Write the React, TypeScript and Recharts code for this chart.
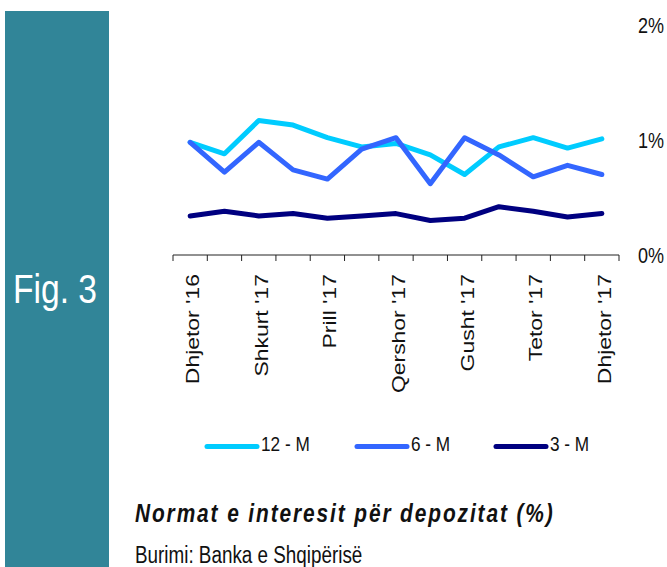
import { LineChart, Line, XAxis, YAxis } from 'recharts';

// Months on the category axis (Dec '16 .. Dec '17)
const MONTHS = [
    "Dhjetor '16", "Janar '17", "Shkurt '17", "Mars '17", "Prill '17", "Maj '17",
    "Qershor '17", "Korrik '17", "Gusht '17", "Shtator '17", "Tetor '17", "Nëntor '17", "Dhjetor '17",
];

// Deposit rates, in percent
const RATE_12M = [0.98, 0.88, 1.17, 1.13, 1.02, 0.94, 0.97, 0.87, 0.70, 0.94, 1.02, 0.93, 1.01];
const RATE_6M = [0.98, 0.72, 0.98, 0.74, 0.66, 0.92, 1.02, 0.62, 1.02, 0.87, 0.68, 0.78, 0.70];
const RATE_3M = [0.34, 0.38, 0.34, 0.36, 0.32, 0.34, 0.36, 0.30, 0.32, 0.42, 0.38, 0.33, 0.36];

const Y_TICKS = [0, 1, 2];

const SERIES = [
    { key: 'm12', name: '12 - M', color: '#00ccff' },
    { key: 'm6', name: '6 - M', color: '#3366ff' },
    { key: 'm3', name: '3 - M', color: '#000080' },
];

const data = MONTHS.map((month, i) => ({
    month,
    m12: RATE_12M[i],
    m6: RATE_6M[i],
    m3: RATE_3M[i],
}));

const W = 667;
const H = 567;
const PLOT_LEFT = 173;
const PLOT_RIGHT = 619;
const STEP = (PLOT_RIGHT - PLOT_LEFT) / MONTHS.length;

const REGULAR = "'Liberation Sans', Arial, sans-serif";

// no narrow font installed, so squeeze the regular one
const NarrowText = ({ x, y, size, children, ...rest }: any) => (
    <text
        transform={`translate(${x},${y}) scale(0.82,1)`}
        fontFamily={REGULAR}
        fontSize={size}
        fill="#111"
        {...rest}
    >
        {children}
    </text>
);

// ticks sit between categories, labels on every other month
const XTick = (props: any) => {
    const { x, y, index, payload } = props;
    const half = STEP / 2;
    return (
        <g>
            <line x1={x - half} x2={x - half} y1={y} y2={y + 6} stroke="#222" />
            {index === MONTHS.length - 1 && (
                <line x1={x + half} x2={x + half} y1={y} y2={y + 6} stroke="#222" />
            )}
            {index % 2 === 0 && (
                <text
                    transform={`translate(${x + 9},${y + 19}) rotate(-90) scale(1.24,1)`}
                    textAnchor="end"
                    fontFamily={REGULAR}
                    fontSize={18.5}
                    fill="#111"
                >
                    {payload.value}
                </text>
            )}
        </g>
    );
};

const YTick = (props: any) => {
    const { x, y, payload } = props;
    return (
        <NarrowText x={x + 19} y={y} size={22} dy="0.36em">
            {`${payload.value}%`}
        </NarrowText>
    );
};

// legend positions
const LEGEND_X = [207, 357, 496];

export default function App() {
    return (
        <div style={{ position: 'absolute', left: 0, top: 0, width: W, height: H, background: '#fff' }}>
            <div style={{ position: 'absolute', left: 5, top: 11, width: 104, height: H - 11, background: '#318598' }} />
            <LineChart
                width={W}
                height={400}
                data={data}
                margin={{ top: 25, right: 0, left: PLOT_LEFT, bottom: 0 }}
                style={{ position: 'absolute', left: 0, top: 0 }}
            >
                <XAxis
                    dataKey="month"
                    height={145}
                    interval={0}
                    padding={{ left: STEP / 2, right: STEP / 2 }}
                    tickLine={false}
                    tickSize={0}
                    tickMargin={0}
                    axisLine={{ stroke: '#222' }}
                    tick={XTick}
                />
                <YAxis
                    orientation="right"
                    width={W - PLOT_RIGHT}
                    domain={[0, 2]}
                    ticks={Y_TICKS}
                    axisLine={false}
                    tickLine={false}
                    tickSize={0}
                    tickMargin={0}
                    tick={YTick}
                />
                {SERIES.map(s => (
                    <Line
                        key={s.key}
                        type="linear"
                        dataKey={s.key}
                        name={s.name}
                        stroke={s.color}
                        strokeWidth={5}
                        strokeLinejoin="round"
                        strokeLinecap="round"
                        dot={false}
                        activeDot={false}
                        isAnimationActive={false}
                    />
                ))}
            </LineChart>
            <svg width={W} height={H} style={{ position: 'absolute', left: 0, top: 0, pointerEvents: 'none' }}>
                <NarrowText x={13} y={303} size={41} fill="#fff">Fig. 3</NarrowText>
                {SERIES.map((s, i) => (
                    <g key={s.key}>
                        <line
                            x1={LEGEND_X[i]}
                            x2={LEGEND_X[i] + 50}
                            y1={446.5}
                            y2={446.5}
                            stroke={s.color}
                            strokeWidth={5}
                            strokeLinecap="round"
                        />
                        <NarrowText x={LEGEND_X[i] + 54} y={451} size={21}>
                            {s.name}
                        </NarrowText>
                    </g>
                ))}
                <NarrowText
                    x={135}
                    y={521.5}
                    size={25.5}
                    fontStyle="italic"
                    fontWeight="bold"
                    letterSpacing={2.3}
                >
                    Normat e interesit për depozitat (%)
                </NarrowText>
                <NarrowText x={135} y={562.5} size={23}>
                    Burimi: Banka e Shqipërisë
                </NarrowText>
            </svg>
        </div>
    );
}
